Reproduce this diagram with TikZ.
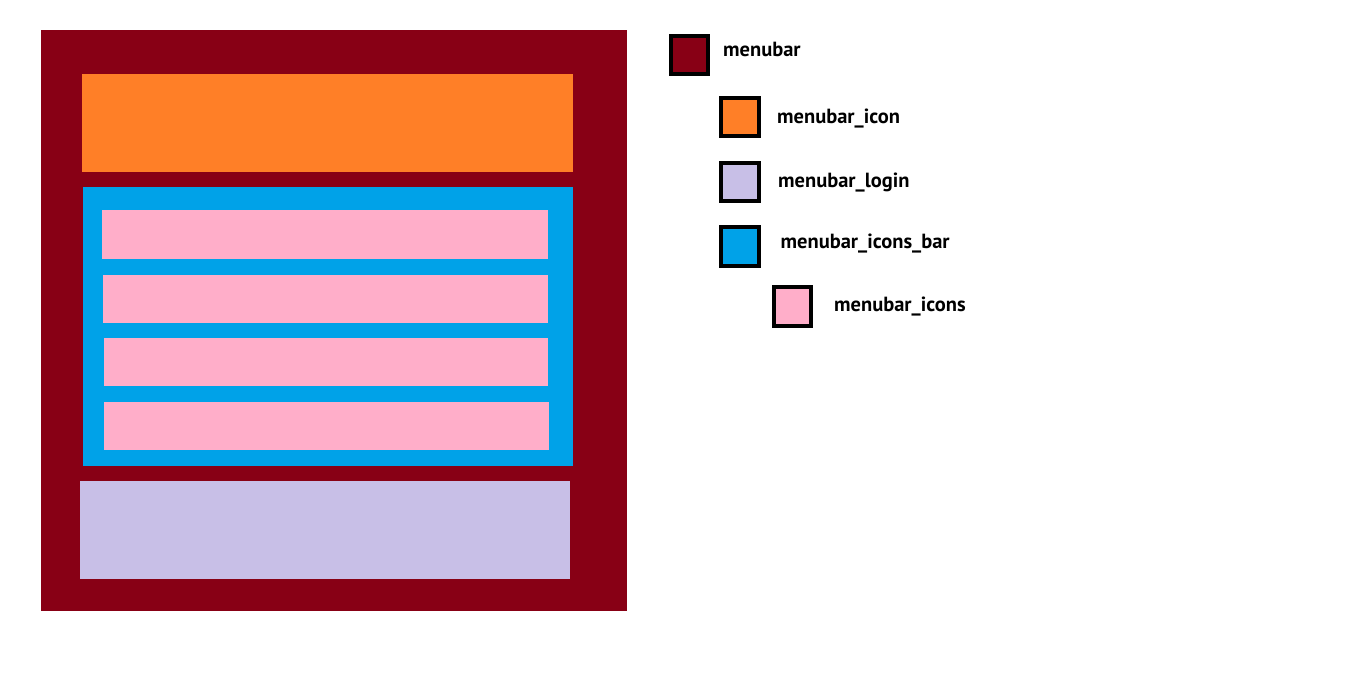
\documentclass[tikz,border=0pt]{standalone}
\usepackage{fontspec}
\setmainfont{PT Sans}
\definecolor{cmaroon}{RGB}{136,0,21}
\definecolor{corange}{RGB}{255,127,39}
\definecolor{cblue}{RGB}{0,162,232}
\definecolor{cpink}{RGB}{255,174,201}
\definecolor{clav}{RGB}{200,191,231}
\tikzset{
  legbox/.style={draw=black,line width=4pt},
  legtext/.style={anchor=base west,inner sep=0pt,font=\bfseries\fontsize{20.5}{24}\selectfont,text=black}
}
\begin{document}
\begin{tikzpicture}[x=1pt,y=-1pt]
\useasboundingbox[fill=white] (0,0) rectangle (1360,675);
% main diagram
\fill[cmaroon] (41,30) rectangle (627,611);
\fill[corange] (82,74) rectangle (573,172);
\fill[cblue] (83,187) rectangle (573,466);
\fill[cpink] (102,210) rectangle (548,259);
\fill[cpink] (103,275) rectangle (548,323);
\fill[cpink] (104,338) rectangle (548,386);
\fill[cpink] (104,402) rectangle (549,450);
\fill[clav] (80,481) rectangle (570,579);
% legend
\filldraw[legbox,fill=cmaroon] (671,36) rectangle (708,74);
\node[legtext] (t1) at (723,56.5) {menubar};
\filldraw[legbox,fill=corange] (721,97.5) rectangle (758.5,136);
\node[legtext] (t2) at (777,123) {menubar\_icon};
\filldraw[legbox,fill=clav] (721,162.5) rectangle (758.5,201);
\node[legtext] (t3) at (778,187.5) {menubar\_login};
\filldraw[legbox,fill=cblue] (721,226.5) rectangle (758.5,265.5);
\node[legtext] (t4) at (780.5,248) {menubar\_icons\_bar};
\filldraw[legbox,fill=cpink] (773.5,287) rectangle (811,325.5);
\node[legtext] (t5) at (834,311.5) {menubar\_icons};
\end{tikzpicture}
\end{document}
